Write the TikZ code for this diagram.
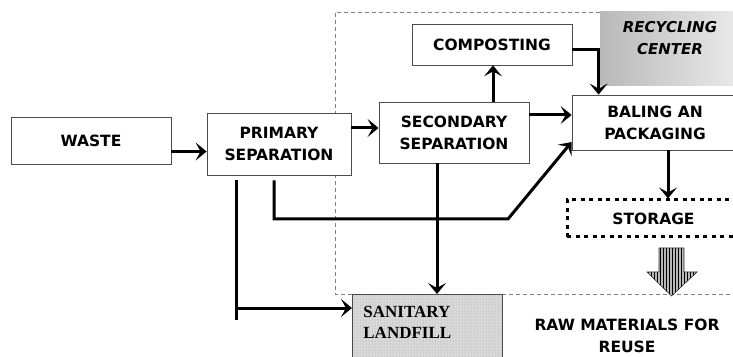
\documentclass[tikz,border=0pt]{standalone}
\usepackage{fontspec}
\setsansfont{DejaVu Sans}
\newfontfamily\landfont{Liberation Serif}
\usetikzlibrary{arrows.meta, positioning, patterns}

\begin{document}
\begin{tikzpicture}[
  x=1pt, y=1pt,
  every node/.style={font=\sffamily\bfseries\fontsize{15.5}{22}\selectfont},
  box/.style={rectangle, draw=black!70, line width=0.8pt, fill=white, align=center, inner sep=0pt},
  storebox/.style={rectangle, draw=black, fill=white, line width=3pt, dash pattern=on 4pt off 4.5pt,
    inner sep=0pt},
  landbox/.style={rectangle, draw=black!70, line width=0.8pt, preaction={fill=gray!30},
    pattern=dots, pattern color=gray!75, align=left, text width=128pt, inner xsep=11pt,
    inner ysep=12pt, text depth=70pt, font=\landfont\bfseries\fontsize{17}{20.5}\selectfont},
  zone/.style={draw=gray, line width=0.8pt, dash pattern=on 4pt off 3pt},
  arrow/.style={-{Stealth[length=11pt,width=18pt,inset=5pt]}, line width=3pt},
  link/.style={line width=3pt}
]
\useasboundingbox (0,0) rectangle (733,356);

% plant boundary and its label
\draw[zone] (600,344) -- (335,344) -- (335,62) -- (745,62);
\shade[left color=gray!55, right color=gray!15] (600,270) rectangle (745,344);
\node[font=\sffamily\bfseries\itshape\fontsize{15}{22}\selectfont, align=center] (rctext) at (670,318)
  {RECYCLING\\CENTER};

\node[box, minimum width=160, minimum height=47] (waste) at (91,215.5) {WASTE};
\node[box, minimum width=144, minimum height=62] (prim) at (279,212) {PRIMARY\\SEPARATION};
\node[box, minimum width=150, minimum height=61] (sec) at (454,223.5) {SECONDARY\\SEPARATION};
\node[box, minimum width=160, minimum height=41] (comp) at (492,311.5) {COMPOSTING};
\node[box, minimum width=166, minimum height=55] (bale) at (655,233.5) {BALING AN\\PACKAGING};
\node[storebox, minimum width=173, minimum height=37] (store) at (653.5,137.5) {STORAGE};
\node[landbox, anchor=north west] (land) at (352,62) {SANITARY\\LANDFILL};
\node[align=center] (raw) at (627,20.5) {RAW MATERIALS FOR\\REUSE};

% output arrow
\path[preaction={fill=gray!55}, pattern=vertical lines, draw=black!80, line width=0.6pt]
  (659,108) -- (684,108) -- (684,84) -- (697,84) -- (671.5,60) -- (647,84) -- (659,84) -- cycle;

\coordinate (drop) at (236,36);
\coordinate (kink) at (508,137);

\draw[arrow] ([yshift=-11pt]waste.east) -- ([yshift=-11pt]waste.east -| prim.west);
\draw[arrow] ([yshift=16pt]prim.east) -- ([yshift=16pt]prim.east -| sec.west);
\draw[arrow] ([xshift=39pt]sec.north) -- ([xshift=39pt]sec.north |- comp.south);
\draw[arrow] ([yshift=17.5pt]sec.east) -- ([yshift=17.5pt]sec.east -| bale.west);
\draw[arrow] ([yshift=-5.5pt]comp.east) -| ([xshift=27pt]bale.north west);
\draw[arrow] ([xshift=-5pt,yshift=-5pt]prim.south) |- (kink) -- ([yshift=-19.5pt]bale.west);
\draw[link] ([yshift=-5pt]prim.south -| drop) -- (drop);
\draw[arrow] ([yshift=-14pt]land.north west -| drop) -- ([yshift=-14pt]land.north west);
\draw[arrow] ([xshift=-17pt]sec.south) -- ([xshift=-17pt]sec.south |- land.north);
\draw[arrow] ([xshift=13pt]bale.south) -- ([xshift=13pt]bale.south |- store.north);

\end{tikzpicture}
\end{document}
